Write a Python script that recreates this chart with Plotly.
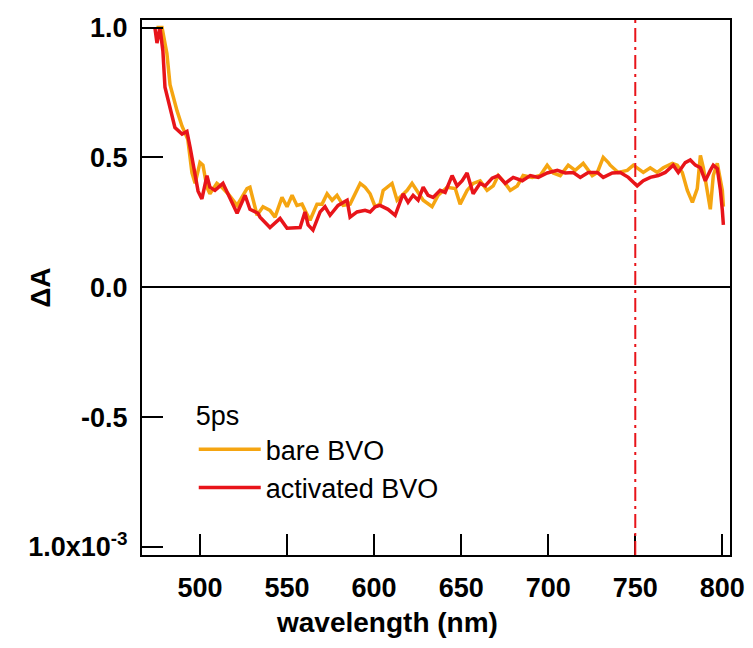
import plotly.graph_objects as go

# Transient absorption spectra at 5 ps (ΔA in units of 1e-3)
wl_bare = [475.0, 478.2, 481.0, 482.8, 486.8, 489.7, 493.0, 495.4, 497.2, 500.0,
           501.7, 504.0, 505.7, 509.7, 512.6, 516.1, 521.3, 527.0, 528.7, 532.8,
           536.2, 540.2, 543.1, 547.1, 550.0, 552.9, 555.7, 558.6, 560.3, 563.2,
           567.2, 570.1, 573.0, 575.9, 578.7, 582.2, 586.2, 592.0, 594.8, 597.7,
           600.6, 603.4, 605.2, 610.3, 613.2, 619.0, 621.8, 624.7, 628.2, 633.3,
           636.8, 641.9, 646.6, 649.4, 653.4, 656.9, 660.9, 664.9, 668.4, 671.3,
           675.3, 678.2, 682.2, 685.6, 690.8, 695.4, 699.4, 702.9, 706.9, 711.5,
           715.5, 720.1, 725.3, 728.2, 731.6, 734.5, 735.6, 740.2, 745.4, 748.9,
           751.7, 754.6, 758.6, 762.6, 766.1, 771.3, 774.1, 777.0, 779.9, 782.8,
           785.6, 787.4, 789.1, 792.0, 793.1, 794.8, 797.1, 800.0, 800.6]
dA_bare = [1.00, 1.00, 0.90, 0.78, 0.68, 0.62, 0.57, 0.44, 0.40, 0.48,
           0.47, 0.385, 0.36, 0.40, 0.385, 0.36, 0.315, 0.38, 0.385, 0.277,
           0.31, 0.296, 0.27, 0.346, 0.31, 0.354, 0.315, 0.32, 0.296, 0.258,
           0.32, 0.32, 0.36, 0.335, 0.354, 0.315, 0.32, 0.40, 0.385, 0.36,
           0.31, 0.32, 0.373, 0.40, 0.335, 0.373, 0.40, 0.373, 0.335, 0.31,
           0.354, 0.385, 0.38, 0.32, 0.373, 0.40, 0.41, 0.373, 0.39, 0.43,
           0.40, 0.373, 0.39, 0.43, 0.423, 0.43, 0.47, 0.44, 0.43, 0.47,
           0.45, 0.477, 0.43, 0.442, 0.50, 0.48, 0.47, 0.442, 0.45, 0.47,
           0.457, 0.442, 0.46, 0.442, 0.46, 0.477, 0.47, 0.442, 0.373, 0.327,
           0.38, 0.508, 0.46, 0.346, 0.30, 0.43, 0.477, 0.373, 0.31]

wl_act = [474.1, 475.3, 477.0, 478.7, 479.9, 482.8, 485.6, 489.7, 492.5, 494.3,
          496.0, 498.9, 501.1, 504.0, 505.7, 508.6, 513.2, 516.1, 521.3, 525.9,
          528.7, 533.3, 534.5, 540.2, 546.0, 550.0, 553.4, 557.5, 560.3, 562.1,
          564.9, 569.0, 571.8, 574.7, 579.3, 584.5, 586.2, 590.2, 594.8, 597.7,
          600.6, 603.4, 608.0, 612.1, 616.7, 619.5, 622.4, 625.3, 628.2, 631.0,
          633.9, 637.9, 640.8, 644.8, 647.7, 650.6, 653.4, 656.9, 660.9, 663.8,
          667.8, 671.3, 675.3, 679.9, 685.1, 689.7, 694.3, 699.4, 705.2, 709.8,
          714.4, 718.4, 723.0, 728.2, 731.6, 736.8, 741.4, 746.0, 751.1, 754.6,
          758.6, 763.2, 767.2, 770.1, 771.8, 774.7, 778.7, 781.6, 784.5, 787.4,
          790.2, 793.1, 794.8, 797.1, 798.9, 800.0, 800.6]
dA_act = [1.00, 0.94, 1.00, 0.91, 0.77, 0.69, 0.615, 0.59, 0.60, 0.54,
          0.48, 0.37, 0.34, 0.43, 0.385, 0.373, 0.40, 0.36, 0.285, 0.354,
          0.30, 0.285, 0.27, 0.23, 0.265, 0.227, 0.227, 0.23, 0.29, 0.24,
          0.22, 0.29, 0.31, 0.277, 0.315, 0.335, 0.27, 0.29, 0.296, 0.29,
          0.31, 0.315, 0.30, 0.277, 0.36, 0.327, 0.354, 0.335, 0.385, 0.354,
          0.346, 0.373, 0.365, 0.43, 0.39, 0.41, 0.44, 0.36, 0.40, 0.39,
          0.42, 0.43, 0.40, 0.423, 0.41, 0.43, 0.423, 0.44, 0.45, 0.44,
          0.442, 0.423, 0.442, 0.442, 0.423, 0.44, 0.442, 0.423, 0.39, 0.41,
          0.423, 0.43, 0.442, 0.457, 0.47, 0.442, 0.48, 0.49, 0.47, 0.46,
          0.41, 0.45, 0.47, 0.457, 0.373, 0.296, 0.24]

marker_wl = 750
x_ticks = [500, 550, 600, 650, 700, 750, 800]
y_ticks = [-1.0, -0.5, 0.0, 0.5, 1.0]
y_ticktext = ["1.0x10<sup>-3</sup>", "-0.5", "0.0", "0.5", "1.0"]

ORANGE = "#F5A511"
RED = "#E8141A"
FONT = "Liberation Sans"

fig = go.Figure()
fig.add_trace(go.Scatter(x=wl_bare, y=dA_bare, mode="lines", name="bare BVO",
                         line=dict(color=ORANGE, width=3.5)))
fig.add_trace(go.Scatter(x=wl_act, y=dA_act, mode="lines", name="activated BVO",
                         line=dict(color=RED, width=3.5)))

fig.add_vline(x=marker_wl, line=dict(color=RED, width=2, dash="14px,5px,3px,5px"))

axis_common = dict(showline=True, linewidth=2, linecolor="black", mirror=True,
                   ticks="inside", tickwidth=2, tickcolor="black", ticklen=21,
                   showgrid=False, automargin=False,
                   tickfont=dict(family=FONT, size=27, color="black", weight="bold"))

fig.update_xaxes(range=[466.7, 804.4], tickvals=x_ticks, zeroline=False,
                 ticklabelstandoff=8, **axis_common)
fig.update_yaxes(range=[-1.031, 1.029], tickvals=y_ticks, ticktext=y_ticktext,
                 zeroline=True, zerolinecolor="black", zerolinewidth=2,
                 ticklabelstandoff=7, **axis_common)

fig.add_annotation(text="wavelength (nm)", xref="paper", yref="paper",
                   x=0.4167, y=-0.127, xanchor="center", yanchor="middle",
                   showarrow=False,
                   font=dict(family=FONT, size=28, color="black", weight="bold"))
fig.add_annotation(text="ΔA", xref="paper", yref="paper",
                   x=-0.173, y=0.5, xanchor="center", yanchor="middle",
                   textangle=-90, showarrow=False,
                   font=dict(family=FONT, size=28, color="black", weight="bold"))

fig.update_layout(
    width=753, height=648,
    margin=dict(l=142, r=23, t=20, b=93, autoexpand=False),
    plot_bgcolor="white", paper_bgcolor="white",
    showlegend=True,
    legend=dict(x=0.088, y=0.308, xanchor="left", yanchor="top",
                bgcolor="rgba(0,0,0,0)",
                title=dict(text="5ps", font=dict(family=FONT, size=27, color="black")),
                font=dict(family=FONT, size=27, color="black"),
                itemwidth=62),
)

fig.write_html("out.html")
